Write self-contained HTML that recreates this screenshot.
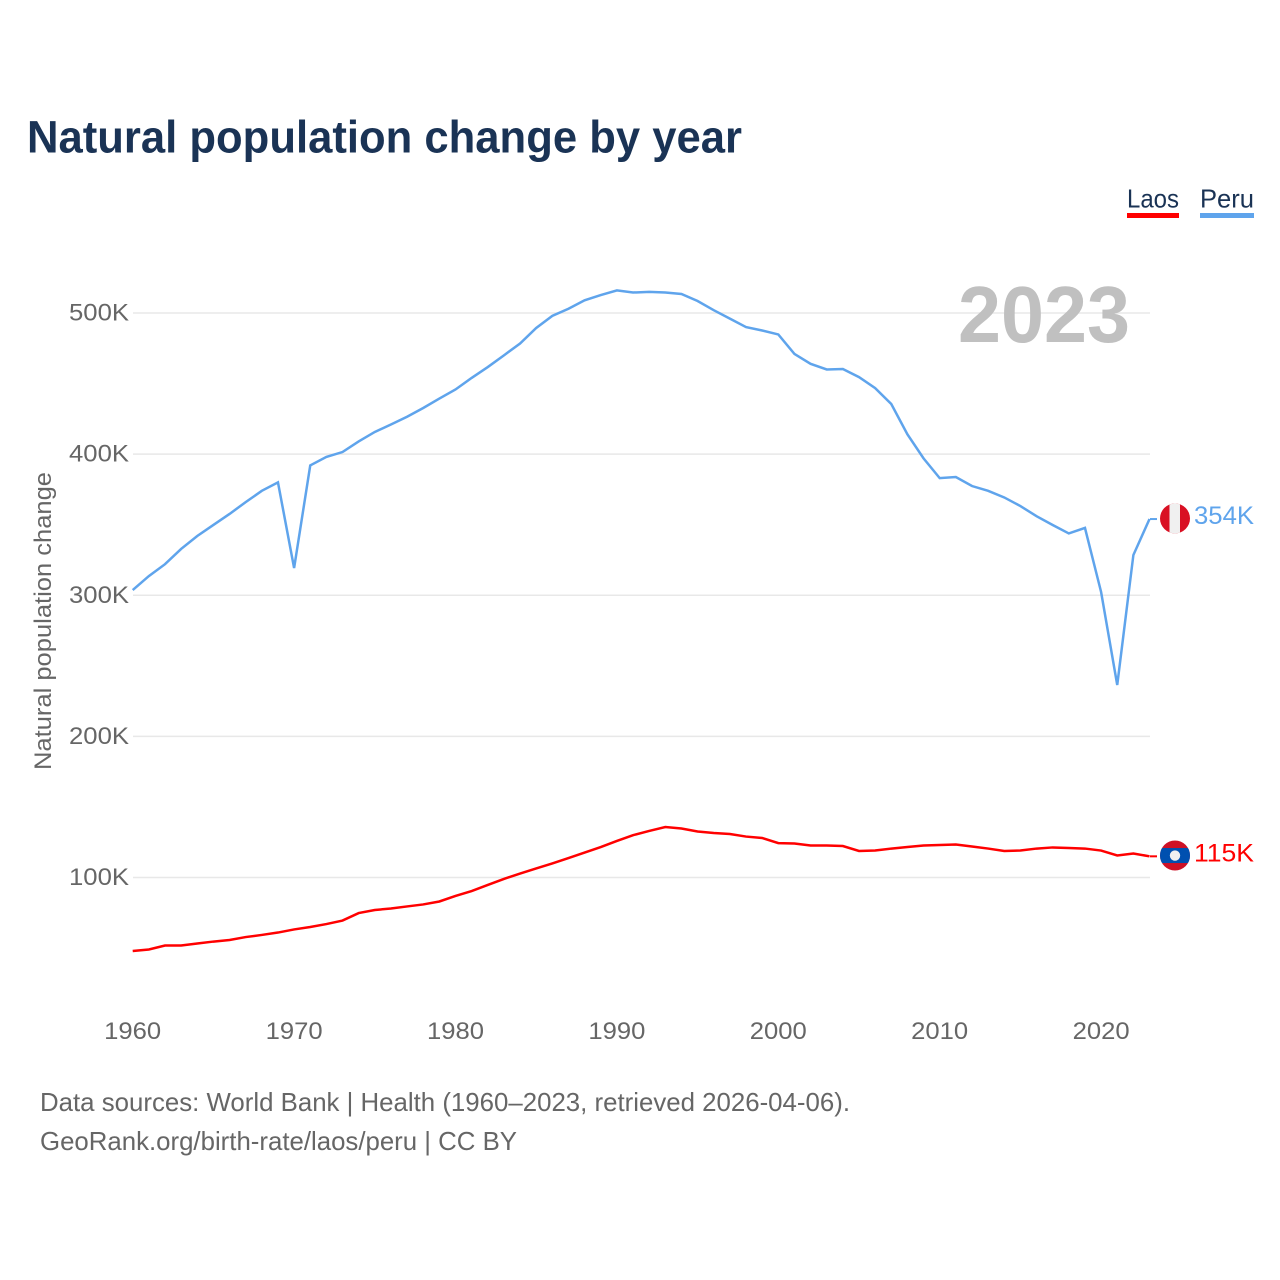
<!DOCTYPE html>
<html lang="en">
<head>
<meta charset="utf-8">
<title>Natural population change by year</title>
<style>
html,body{margin:0;padding:0;background:#fff;}
svg{display:block;}
text{font-family:"Liberation Sans",sans-serif;}
</style>
</head>
<body>
<svg id="chart" xmlns="http://www.w3.org/2000/svg" width="1280" height="1280" viewBox="0 0 1280 1280">
  <rect width="1280" height="1280" fill="#fff"/>
  <text x="27" y="152.5" font-size="45" font-weight="700" fill="#1a3355" textLength="715" lengthAdjust="spacingAndGlyphs">Natural population change by year</text>
  <g>
    <text x="1127" y="207.5" font-size="26" fill="#1a3355" textLength="52" lengthAdjust="spacingAndGlyphs">Laos</text>
    <rect x="1127" y="213" width="52" height="5" fill="#ff0000"/>
  </g>
  <g>
    <text x="1200" y="207.5" font-size="26" fill="#1a3355" textLength="54" lengthAdjust="spacingAndGlyphs">Peru</text>
    <rect x="1200" y="213" width="54" height="5" fill="#5fa4ec"/>
  </g>
  <text transform="translate(51,621) rotate(-90)" text-anchor="middle" font-size="24" fill="#666" textLength="298" lengthAdjust="spacingAndGlyphs">Natural population change</text>
  <g id="grid"></g>
  <g id="yticks"></g>
  <g id="xticks"></g>
  <text x="958" y="342" font-size="80" font-weight="700" fill="#c0c0c0" textLength="172" lengthAdjust="spacingAndGlyphs">2023</text>
  <g id="series"></g>
  <g id="ends"></g>
  <text x="40" y="1111" font-size="26" fill="#666" textLength="810" lengthAdjust="spacingAndGlyphs">Data sources: World Bank | Health (1960–2023, retrieved 2026-04-06).</text>
  <text x="40" y="1150" font-size="26" fill="#666" textLength="477" lengthAdjust="spacingAndGlyphs">GeoRank.org/birth-rate/laos/peru | CC BY</text>
</svg>
<script>
const startYear = 1960;
const xTickYears = [1960, 1970, 1980, 1990, 2000, 2010, 2020];
const yTickValues = [100, 200, 300, 400, 500];
const peruValues = [303.7,313.6,322,332.8,342,349.8,357.6,366,374,380,319.3,392,398,401.5,409,415.7,421,426.5,432.7,439.4,445.8,454,461.7,470,478.4,489.4,498,503,509,512.7,516,514.5,515,514.5,513.5,508.5,502,496,490,487.6,484.8,471,464,460,460.3,454.6,446.8,435.5,414,397,383,383.8,377.4,374,369.3,363.2,356,349.8,343.8,347.7,302.3,236.4,328.5,354];
const laosValues = [47.9,49,51.8,51.8,53.2,54.6,55.7,57.8,59.3,61,63.2,64.9,67,69.5,74.8,77,78,79.5,80.9,83,86.9,90.4,94.7,99,102.8,106.4,110,113.8,117.7,121.6,125.9,130,133,135.8,134.7,132.6,131.5,130.8,129,128,124.4,124.1,122.7,122.7,122.3,118.8,119.1,120.5,121.6,122.7,123,123.4,122,120.5,118.8,119.1,120.5,121.3,120.9,120.5,119.1,115.6,117,115];

const NS = 'http://www.w3.org/2000/svg';
const xScale = function (year) { return 132.7 + (year - 1960) * 16.14; };
const yScale = function (v) { return 877.5 - (v - 100) * 1.41125; };
const xEnd = 1150;

function mk(parent, tag, attrs, txt) {
  const el = document.createElementNS(NS, tag);
  for (const k in attrs) el.setAttribute(k, attrs[k]);
  if (txt !== undefined) el.textContent = txt;
  parent.appendChild(el);
  return el;
}

const gridG = document.getElementById('grid');
const yG = document.getElementById('yticks');
yTickValues.forEach(function (v) {
  const line = mk(gridG, 'line', {x1: 133, x2: xEnd, y1: yScale(v), y2: yScale(v), stroke: '#e8e8e8', 'stroke-width': 1.5});
  
  
  const label = mk(yG, 'text', {x: 129, y: yScale(v) + 7.5, 'text-anchor': 'end', 'font-size': 24, fill: '#666', textLength: 60, lengthAdjust: 'spacingAndGlyphs'}, v + 'K');
  
  
});

const xG = document.getElementById('xticks');
xTickYears.forEach(function (yr) {
  const label = mk(xG, 'text', {x: xScale(yr), y: 1039, 'text-anchor': 'middle', 'font-size': 24, fill: '#666', textLength: 57, lengthAdjust: 'spacingAndGlyphs'}, String(yr));
  
  
});

function linePoints(values) {
  return values.map(function (v, i) {
    return xScale(startYear + i).toFixed(2) + ',' + yScale(v).toFixed(2);
  }).join(' ');
}
const seriesG = document.getElementById('series');
const peruLine = mk(seriesG, 'polyline', {points: linePoints(peruValues), fill: 'none', stroke: '#5fa4ec', 'stroke-width': 2.5, 'stroke-linejoin': 'miter'});


const laosLine = mk(seriesG, 'polyline', {points: linePoints(laosValues), fill: 'none', stroke: '#ff0000', 'stroke-width': 2.5, 'stroke-linejoin': 'miter'});



const endsG = document.getElementById('ends');
const defs = mk(endsG, 'defs', {});
const peruY = yScale(peruValues[peruValues.length - 1]);
const laosY = yScale(laosValues[laosValues.length - 1]);
const peruFlagY = peruY - 0.6;
const laosFlagY = laosY - 0.8;
const flagX = 1175;

mk(mk(defs, 'clipPath', {id: 'clip-peru'}), 'circle', {cx: flagX, cy: peruFlagY, r: 15});
mk(mk(defs, 'clipPath', {id: 'clip-laos'}), 'circle', {cx: flagX, cy: laosFlagY, r: 15});

const peruConn = mk(endsG, 'line', {x1: xEnd, x2: 1157, y1: peruY, y2: peruY, stroke: '#5fa4ec', 'stroke-width': 2});


const laosConn = mk(endsG, 'line', {x1: xEnd, x2: 1157, y1: laosY, y2: laosY, stroke: '#ff0000', 'stroke-width': 2});



const peruFlag = mk(endsG, 'g', {'clip-path': 'url(#clip-peru)'});


mk(peruFlag, 'rect', {x: flagX - 15, y: peruFlagY - 15, width: 30, height: 30, fill: '#d91023'});
mk(peruFlag, 'rect', {x: flagX - 5.5, y: peruFlagY - 15, width: 10.5, height: 30, fill: '#f0f0f0'});

const laosFlag = mk(endsG, 'g', {'clip-path': 'url(#clip-laos)'});


mk(laosFlag, 'rect', {x: flagX - 15, y: laosFlagY - 15, width: 30, height: 30, fill: '#ce1126'});
mk(laosFlag, 'rect', {x: flagX - 15, y: laosFlagY - 7.5, width: 30, height: 15, fill: '#0050b0'});
mk(laosFlag, 'circle', {cx: flagX, cy: laosFlagY, r: 5.2, fill: '#f0f0f0'});

const peruLabel = mk(endsG, 'text', {x: 1194, y: peruY + 5, 'font-size': 25, fill: '#5fa4ec', textLength: 60, lengthAdjust: 'spacingAndGlyphs'}, Math.round(peruValues[peruValues.length - 1]) + 'K');


const laosLabel = mk(endsG, 'text', {x: 1194, y: laosY + 5, 'font-size': 25, fill: '#ff0000', textLength: 60, lengthAdjust: 'spacingAndGlyphs'}, Math.round(laosValues[laosValues.length - 1]) + 'K');


</script>
</body>
</html>
